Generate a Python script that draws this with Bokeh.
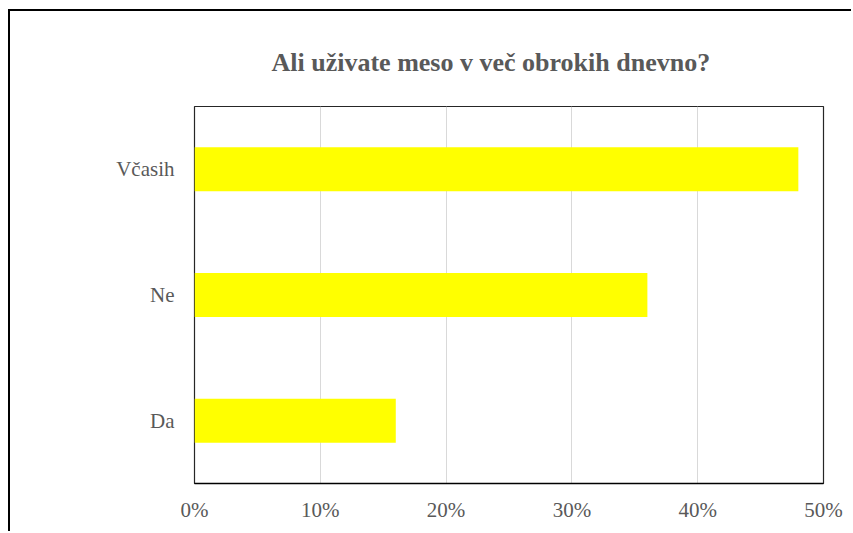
from bokeh.plotting import figure
from bokeh.models import FactorRange, Range1d, NumeralTickFormatter, FixedTicker, InlineStyleSheet
from bokeh.embed import file_html
from bokeh.resources import INLINE

categories = ["Da", "Ne", "Včasih"]
shares = [0.16, 0.36, 0.48]
x_ticks = [0.0, 0.1, 0.2, 0.3, 0.4, 0.5]
title_text = "Ali uživate meso v več obrokih dnevno?"

SERIF = "Liberation Serif"

p = figure(width=843, height=522, output_backend="svg", toolbar_location=None,
           y_range=FactorRange(*categories), x_range=Range1d(0, 0.5),
           min_border_left=184, min_border_right=30, min_border_top=95, min_border_bottom=50,
           margin=(9, 0, 0, 8))
p.stylesheets = [InlineStyleSheet(css=":host { border-left: 2px solid black; border-top: 2px solid black; }")]

p.hbar(y=categories, right=shares, left=0, height=0.35, color="#FFFF00", line_color=None)

p.title.text = title_text
p.title.text_font = SERIF
p.title.text_font_size = "26px"
p.title.text_font_style = "bold"
p.title.text_color = "#595959"
p.title.align = "left"
p.title.offset = 77
p.title.standoff = 60

p.xaxis.ticker = FixedTicker(ticks=x_ticks)
p.xaxis.formatter = NumeralTickFormatter(format="0%")
p.xaxis.axis_line_color = "black"
p.xaxis.axis_line_width = 1.5
p.xaxis.major_tick_line_color = None
p.xaxis.minor_tick_line_color = None
p.xaxis.major_label_text_font = SERIF
p.xaxis.major_label_text_font_size = "21px"
p.xaxis.major_label_text_color = "#595959"
p.xaxis.major_label_standoff = 8

p.yaxis.axis_line_color = None
p.yaxis.major_tick_line_color = None
p.yaxis.minor_tick_line_color = None
p.yaxis.major_label_text_font = SERIF
p.yaxis.major_label_text_font_size = "21px"
p.yaxis.major_label_text_color = "#595959"
p.yaxis.major_label_standoff = 14

p.xgrid.grid_line_color = "#d9d9d9"
p.ygrid.grid_line_color = None
p.outline_line_color = "#262626"
p.outline_line_width = 1.2

open("out.html", "w").write(file_html(p, INLINE))
